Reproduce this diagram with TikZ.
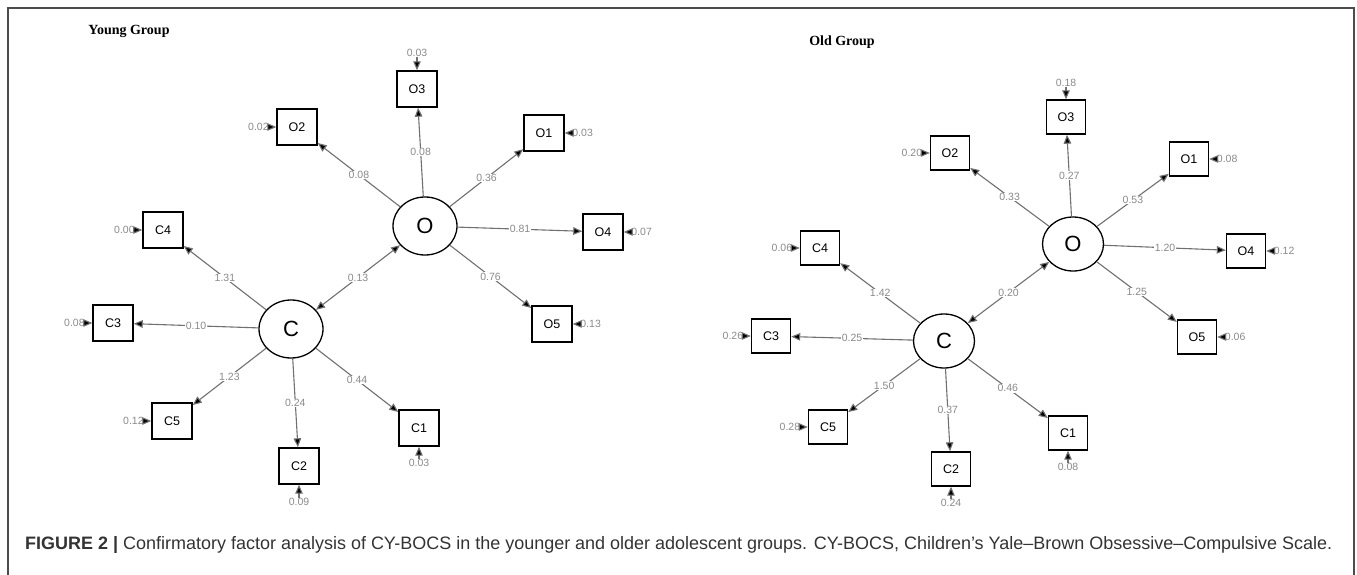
\documentclass[tikz,border=0pt]{standalone}
\usepackage{fontspec}
\setmainfont{Liberation Sans}
\newfontfamily\titlefont{Liberation Serif}
\usepackage{graphicx}
\usepackage{tikz}
\usetikzlibrary{shapes,arrows.meta,positioning}
\definecolor{lblgray}{HTML}{8A8A8A}
\definecolor{linegray}{HTML}{707070}
\definecolor{capgray}{HTML}{333333}
\tikzset{->,>={Triangle[length=9pt,width=7.5pt]},
  lat/.style={ellipse,draw,line width=1.3pt,minimum width=64pt,minimum height=58pt,inner sep=0pt,font=\fontsize{22}{22}\selectfont},
  var/.style={rectangle,draw,line width=1.4pt,minimum width=40pt,minimum height=36pt,inner sep=0pt,font=\fontsize{12.5}{12.5}\selectfont},
  lbl/.style={fill=white,text=lblgray,inner sep=0.5pt,font=\fontsize{10.5}{10.5}\selectfont},
  res/.style={text=lblgray,inner sep=0.5pt,font=\fontsize{10.5}{10.5}\selectfont},
  load/.style={draw=linegray,line width=1.1pt},
  grp/.style={font=\titlefont\bfseries\fontsize{14}{14}\selectfont}}

\begin{document}
\begin{tikzpicture}[x=1pt,y=-1pt]
    \useasboundingbox (0,0) rectangle (1357,575);
    \draw[-,draw=black!70,line width=1.2pt] (8,575) -- (8,8) -- (1354,8) -- (1354,575);

    % young group
    \node[grp] (yt) at (129,31) {Young Group};
    \node[lat] (yO) at (425,226) {O};
    \node[lat] (yC) at (291,329) {C};
    \node[var] (yO1) at (544,133) {O1};
    \node[var] (yO2) at (297,127) {O2};
    \node[var] (yO3) at (417,89) {O3};
    \node[var] (yO4) at (603,232) {O4};
    \node[var] (yO5) at (552,324) {O5};
    \node[var] (yC1) at (419,428) {C1};
    \node[var] (yC2) at (299,466) {C2};
    \node[var] (yC3) at (113,323) {C3};
    \node[var] (yC4) at (163,230) {C4};
    \node[var] (yC5) at (172,421) {C5};
    \node[res] (yO1r) [right=7pt of yO1] {0.03};
    \node[res] (yO2r) [left=7pt of yO2] {0.02};
    \node[res] (yO3r) [above=13pt of yO3] {0.03};
    \node[res] (yO4r) [right=7pt of yO4] {0.07};
    \node[res] (yO5r) [right=7pt of yO5] {0.13};
    \node[res] (yC1r) [below=12pt of yC1] {0.03};
    \node[res] (yC2r) [below=13pt of yC2] {0.09};
    \node[res] (yC3r) [left=7pt of yC3] {0.08};
    \node[res] (yC4r) [left=7pt of yC4] {0.00};
    \node[res] (yC5r) [left=7pt of yC5] {0.12};
    \path[load]
    (yO) edge node[lbl] {0.36} (yO1)
    (yO) edge node[lbl] {0.08} (yO2)
    (yO) edge node[lbl] {0.08} (yO3)
    (yO) edge node[lbl] {0.81} (yO4)
    (yO) edge node[lbl] {0.76} (yO5)
    (yC) edge node[lbl] {0.44} (yC1)
    (yC) edge node[lbl] {0.24} (yC2)
    (yC) edge node[lbl] {0.10} (yC3)
    (yC) edge node[lbl] {1.31} (yC4)
    (yC) edge node[lbl] {1.23} (yC5)
    (yC) edge[<->] node[lbl] {0.13} (yO)
    (yO1r) edge (yO1)
    (yO2r) edge (yO2)
    (yO3r) edge (yO3)
    (yO4r) edge (yO4)
    (yO5r) edge (yO5)
    (yC1r) edge (yC1)
    (yC2r) edge (yC2)
    (yC3r) edge (yC3)
    (yC4r) edge (yC4)
    (yC5r) edge (yC5)
    ;

    % old group
    \begin{scope}[var/.append style={minimum width=39pt,minimum height=34pt},
                  lat/.append style={minimum width=61pt,minimum height=54pt}]
    \node[grp] (ot) at (842,42) {Old Group};
    \node[lat] (oO) at (1073,244) {O};
    \node[lat] (oC) at (944,341) {C};
    \node[var] (oO1) at (1189,159) {O1};
    \node[var] (oO2) at (950,153) {O2};
    \node[var] (oO3) at (1066,117) {O3};
    \node[var] (oO4) at (1246,251) {O4};
    \node[var] (oO5) at (1197,337) {O5};
    \node[var] (oC1) at (1068,433) {C1};
    \node[var] (oC2) at (951,469) {C2};
    \node[var] (oC3) at (771,336) {C3};
    \node[var] (oC4) at (820,248) {C4};
    \node[var] (oC5) at (828,427) {C5};
    \node[res] (oO1r) [right=7pt of oO1] {0.08};
    \node[res] (oO2r) [left=7pt of oO2] {0.20};
    \node[res] (oO3r) [above=12pt of oO3] {0.18};
    \node[res] (oO4r) [right=7pt of oO4] {0.12};
    \node[res] (oO5r) [right=7pt of oO5] {0.06};
    \node[res] (oC1r) [below=12pt of oC1] {0.08};
    \node[res] (oC2r) [below=12pt of oC2] {0.24};
    \node[res] (oC3r) [left=7pt of oC3] {0.26};
    \node[res] (oC4r) [left=7pt of oC4] {0.06};
    \node[res] (oC5r) [left=7pt of oC5] {0.28};
    \path[load]
    (oO) edge node[lbl] {0.53} (oO1)
    (oO) edge node[lbl] {0.33} (oO2)
    (oO) edge node[lbl] {0.27} (oO3)
    (oO) edge node[lbl] {1.20} (oO4)
    (oO) edge node[lbl] {1.25} (oO5)
    (oC) edge node[lbl] {0.46} (oC1)
    (oC) edge node[lbl] {0.37} (oC2)
    (oC) edge node[lbl] {0.25} (oC3)
    (oC) edge node[lbl] {1.42} (oC4)
    (oC) edge node[lbl] {1.50} (oC5)
    (oC) edge[<->] node[lbl] {0.20} (oO)
    (oO1r) edge (oO1)
    (oO2r) edge (oO2)
    (oO3r) edge (oO3)
    (oO4r) edge (oO4)
    (oO5r) edge (oO5)
    (oC1r) edge (oC1)
    (oC2r) edge (oC2)
    (oC3r) edge (oC3)
    (oC4r) edge (oC4)
    (oC5r) edge (oC5)
    ;
    \end{scope}

    \node[anchor=west,text=capgray,inner sep=0pt] (cap) at (25,545) {\resizebox{1307pt}{!}{\textbf{FIGURE 2 |} Confirmatory factor analysis of CY-BOCS in the younger and older adolescent groups. CY-BOCS, Children’s Yale–Brown Obsessive–Compulsive Scale.}};
\end{tikzpicture}
\end{document}
